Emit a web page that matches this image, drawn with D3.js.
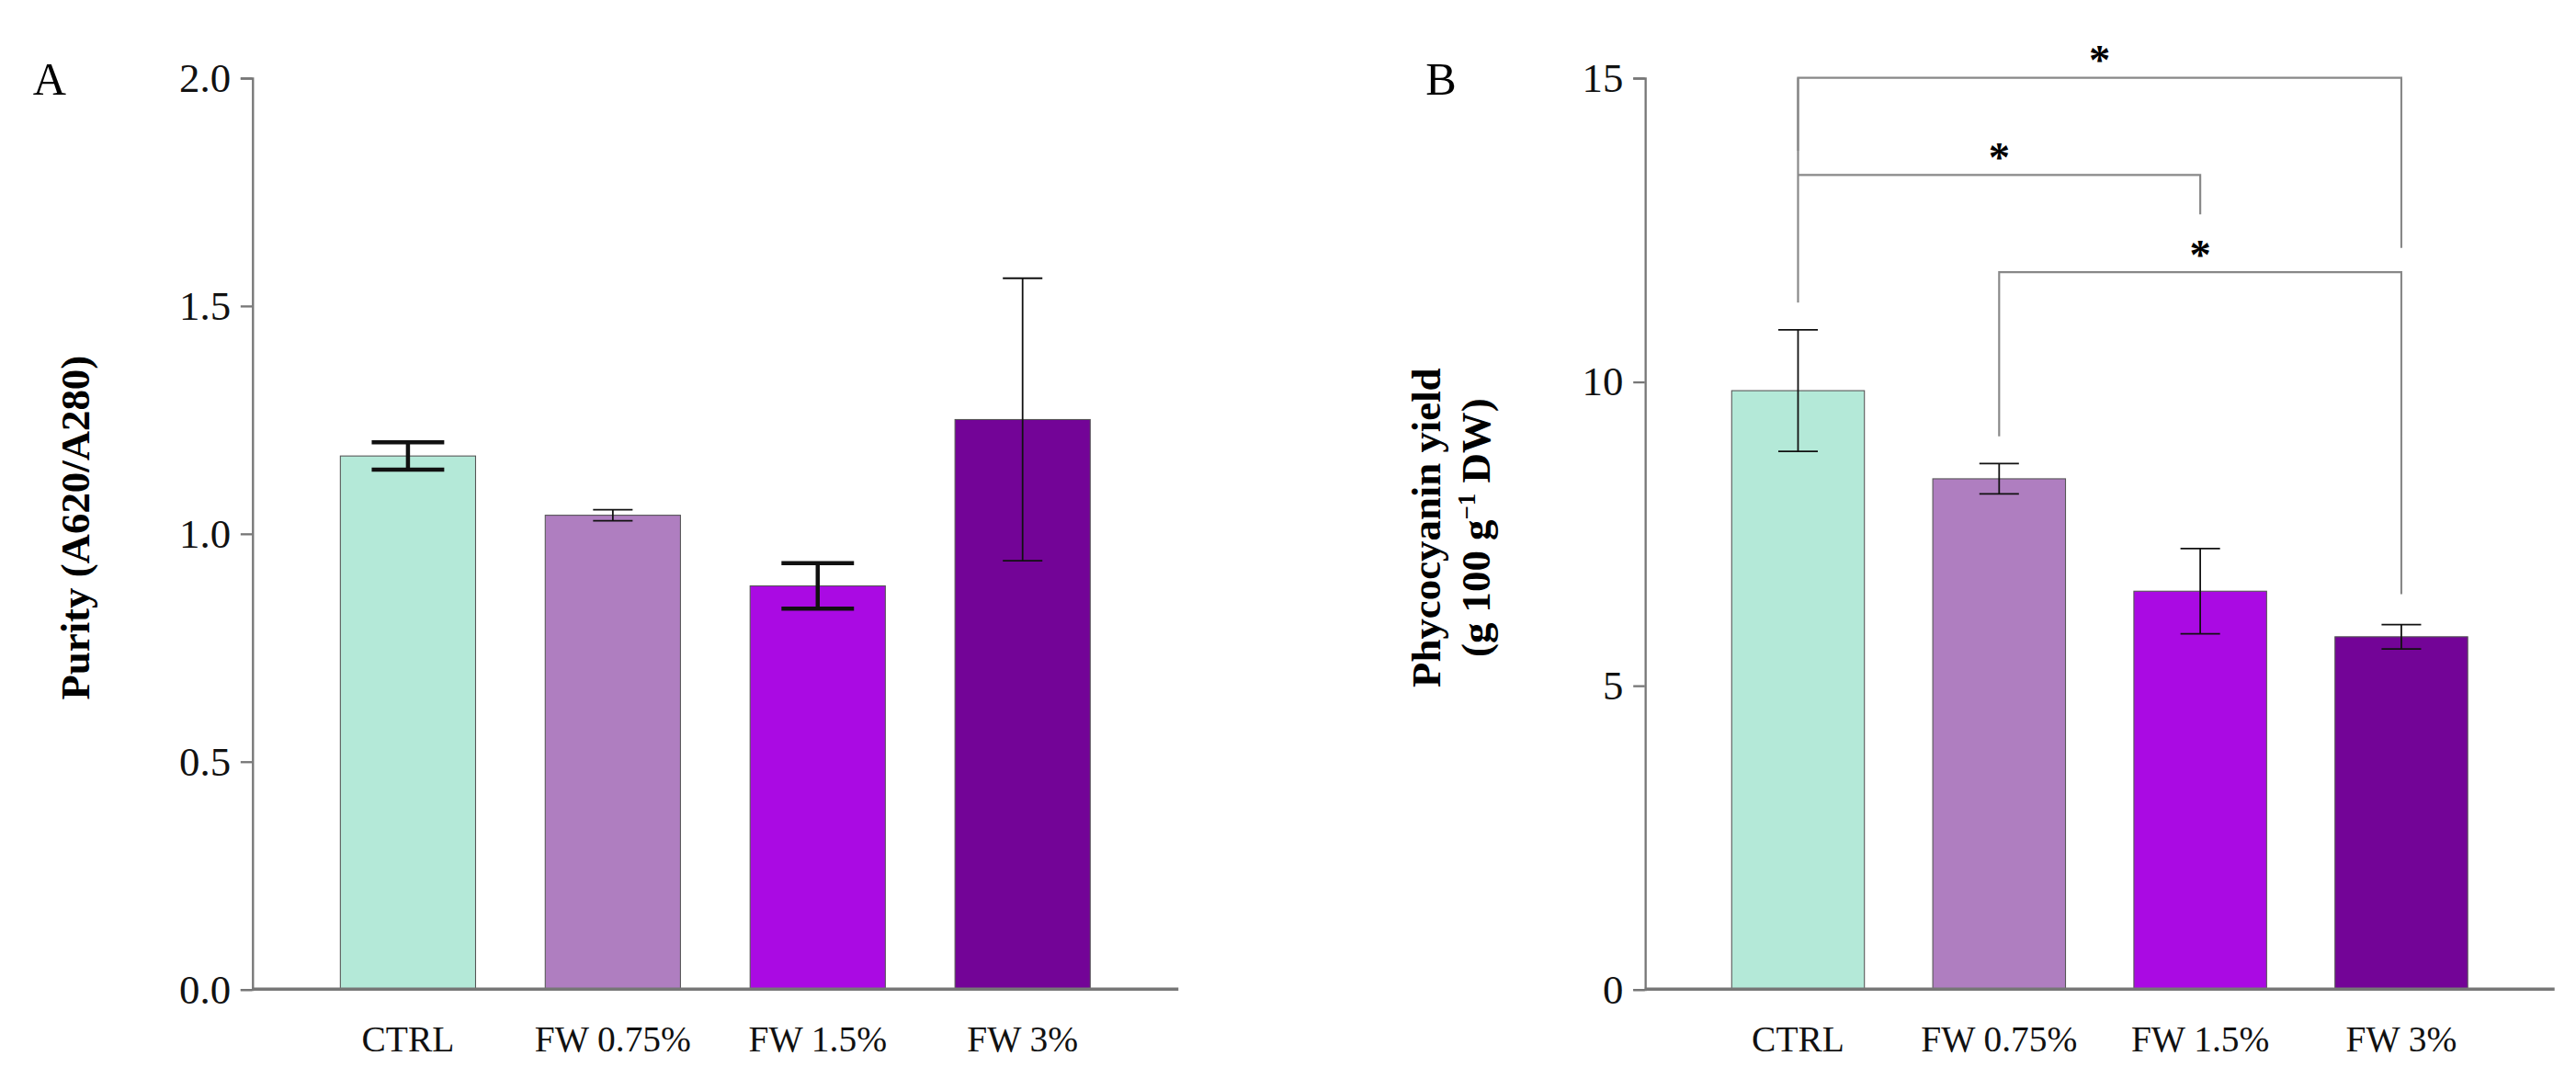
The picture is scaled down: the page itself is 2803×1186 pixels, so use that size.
<!DOCTYPE html>
<html><head><meta charset="utf-8">
<script src="https://cdn.jsdelivr.net/npm/d3@7"></script>
<style>html,body{margin:0;background:#fff}svg{display:block}text{font-family:"Liberation Serif","Times New Roman",serif}</style>
</head><body>
<script>
const categories = ["CTRL", "FW 0.75%", "FW 1.5%", "FW 3%"];
const colors = ["#b4e9d8", "#af7ec0", "#aa0ae3", "#730497"];
const purity = [1.17, 1.04, 0.885, 1.25];
const purityErr = [0.03, 0.012, 0.05, 0.31];
const purityErrWidth = [2.5, 1, 2.5, 1];
const purityTicks = [0, 0.5, 1.0, 1.5, 2.0];
const yieldVals = [9.85, 8.4, 6.55, 5.8];
const yieldErr = [1.0, 0.25, 0.7, 0.2];
const yieldTicks = [0, 5, 10, 15];
// brackets: [from, to, bar height, left leg end, right leg end]
const brackets = [
  ["CTRL", "FW 3%", 15.0, 13.8, 12.2],
  ["CTRL", "FW 1.5%", 13.4, 13.4, 12.75],
  ["FW 0.75%", "FW 3%", 11.8, 9.1, 6.5]
];
const ctrlLegBottom = 11.3;

const svg = d3.select("body").append("svg")
  .attr("width", 2803).attr("height", 1186)
  .attr("viewBox", "0 0 1563 661");

function panel(x0, x1, letter, vals, errs, errW, ticks, fmt, label) {
  const top = 47, bottom = 600;
  const y = d3.scaleLinear().domain([0, ticks[ticks.length - 1]]).range([bottom, top]);
  const x = d3.scaleBand().domain(categories).range([x0 + 10, x1 - 10]).paddingInner(0.34).paddingOuter(0.35);
  const g = svg.append("g");
  g.selectAll("rect").data(vals).join("rect")
    .attr("x", (d, i) => x(categories[i])).attr("width", x.bandwidth())
    .attr("y", d => y(d)).attr("height", d => bottom - y(d))
    .attr("fill", (d, i) => colors[i]).attr("stroke", "#555").attr("stroke-width", 0.6);
  vals.forEach((v, i) => {
    const cx = x(categories[i]) + x.bandwidth() / 2, w = errW[i];
    const cw = w > 1.5 ? 22 : 12;
    const e = g.append("g").attr("stroke", "#111").attr("stroke-width", w);
    e.append("line").attr("x1", cx).attr("x2", cx).attr("y1", y(v + errs[i])).attr("y2", y(v - errs[i]));
    [v + errs[i], v - errs[i]].forEach(t => e.append("line").attr("x1", cx - cw).attr("x2", cx + cw).attr("y1", y(t)).attr("y2", y(t)));
  });
  const ax = g.append("g").attr("transform", `translate(${x0},0)`)
    .call(d3.axisLeft(y).tickValues(ticks).tickFormat(fmt).tickSize(7).tickPadding(6));
  ax.selectAll("path,line").attr("stroke", "#777").attr("stroke-width", 1.3);
  ax.selectAll("text").attr("font-size", 25).attr("fill", "#111");
  const xa = g.append("g").attr("transform", `translate(0,${bottom})`)
    .call(d3.axisBottom(x).tickSize(0).tickPadding(22));
  xa.select("path").attr("d", `M${x0},0H${x1}`).attr("stroke", "#777").attr("stroke-width", 2);
  xa.selectAll("text").attr("font-size", 22).attr("fill", "#111");
  g.append("text").attr("x", x0 - 133).attr("y", 57).attr("font-size", 28).text(letter);
  return { x, y, g };
}

const A = panel(153, 715, "A", purity, purityErr, purityErrWidth, purityTicks, d3.format(".1f"));
A.g.append("text").attr("transform", "translate(54,320) rotate(-90)").attr("text-anchor", "middle")
  .attr("font-size", 25).attr("font-weight", "bold").text("Purity (A620/A280)");

const B = panel(998, 1550, "B", yieldVals, yieldErr, [1, 1, 1, 1], yieldTicks, d3.format("d"));
const lab = B.g.append("text").attr("transform", "translate(888,320) rotate(-90)").attr("text-anchor", "middle")
  .attr("font-size", 25).attr("font-weight", "bold");
lab.append("tspan").attr("x", 0).attr("dy", -14).text("Phycocyanin yield");
const t2 = lab.append("tspan").attr("x", 0).attr("dy", 30).text("(g 100 g");
t2.append("tspan").attr("font-size", 15).attr("dy", -9).text("−1");
lab.append("tspan").attr("dy", 9).text(" DW)");

const cx = c => B.x(c) + B.x.bandwidth() / 2;
B.g.append("line").attr("x1", cx("CTRL")).attr("x2", cx("CTRL")).attr("y1", B.y(15)).attr("y2", B.y(ctrlLegBottom))
  .attr("stroke", "#888").attr("stroke-width", 1.2);
brackets.forEach(([a, b, h, l, r]) => {
  B.g.append("path")
    .attr("d", `M${cx(a)},${B.y(l)}V${B.y(h)}H${cx(b)}V${B.y(r)}`)
    .attr("fill", "none").attr("stroke", "#888").attr("stroke-width", 1.2);
  B.g.append("text").attr("x", (cx(a) + cx(b)) / 2).attr("y", B.y(h) - 2).attr("text-anchor", "middle")
    .attr("font-size", 26).attr("font-weight", "bold").text("*");
});
</script>
</body></html>
